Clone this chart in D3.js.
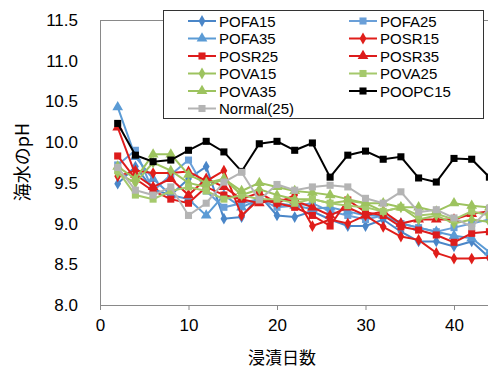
<!DOCTYPE html>
<html><head><meta charset="utf-8">
<script src="https://cdn.jsdelivr.net/npm/d3@7/dist/d3.min.js"></script>
<style>body{margin:0;background:#fff}svg{display:block}</style>
</head><body><svg id="c" width="488" height="370"></svg>
<script>
const days = [2,4,6,8,10,12,14,16,18,20,22,24,26,28,30,32,34,36,38,40,42,44];
const POFA15  = [9.49,9.70,9.42,9.35,9.55,9.70,9.06,9.08,9.35,9.10,9.08,9.15,9.05,8.97,8.97,9.05,8.90,8.78,8.78,8.72,8.78,8.58];
const POFA25  = [9.72,9.90,9.40,9.60,9.78,9.40,9.20,9.25,9.30,9.20,9.22,9.25,9.15,9.10,9.05,9.10,9.00,8.95,8.90,8.95,9.00,9.05];
const POFA35  = [10.43,9.82,9.55,9.35,9.30,9.10,9.35,9.20,9.30,9.25,9.22,9.18,9.20,9.15,9.10,9.10,9.00,8.95,8.90,8.85,8.82,8.65];
const POSR15  = [9.58,9.65,9.62,9.62,9.64,9.52,9.65,9.10,9.30,9.25,9.35,8.97,9.05,9.00,9.10,8.96,8.84,8.80,8.64,8.57,8.57,8.58];
const POSR25  = [9.83,9.55,9.40,9.30,9.25,9.45,9.35,9.30,9.38,9.25,9.20,9.10,8.97,9.29,9.14,9.10,8.96,8.92,8.86,8.77,8.88,8.90];
const POSR35  = [10.18,9.60,9.45,9.55,9.35,9.55,9.45,9.30,9.25,9.30,9.28,9.20,9.10,9.20,9.10,9.15,9.00,9.05,9.05,9.05,9.12,9.15];
const POVA15  = [9.62,9.50,9.75,9.65,9.50,9.45,9.55,9.35,9.42,9.35,9.30,9.30,9.25,9.28,9.25,9.15,9.20,9.05,9.10,9.00,9.05,9.02];
const POVA25  = [9.65,9.35,9.30,9.40,9.45,9.40,9.30,9.35,9.30,9.30,9.25,9.30,9.25,9.22,9.20,9.15,9.20,9.10,9.12,9.05,9.15,9.10];
const POVA35  = [9.70,9.55,9.85,9.85,9.60,9.50,9.55,9.40,9.50,9.45,9.40,9.38,9.35,9.30,9.25,9.25,9.20,9.20,9.15,9.25,9.22,9.20];
const POOPC15 = [10.23,9.84,9.76,9.78,9.90,10.01,9.88,9.64,9.98,10.01,9.90,9.99,9.57,9.84,9.89,9.79,9.82,9.56,9.51,9.80,9.79,9.57];
const Normal25 = [9.69,9.41,9.35,9.45,9.10,9.25,9.51,9.63,9.29,9.48,9.41,9.45,9.47,9.45,9.31,9.25,9.39,9.14,9.17,9.07,8.96,9.19];
const seriesNames = ["POFA15","POFA25","POFA35","POSR15","POSR25","POSR35","POVA15","POVA25","POVA35","POOPC15","Normal(25)"];
const xTicks = [0,10,20,30,40];
const yTicks = [8.0,8.5,9.0,9.5,10.0,10.5,11.0,11.5];
const xTitle = "浸漬日数";
const yTitle = "海水のpH";

const valuesList = [POFA15,POFA25,POFA35,POSR15,POSR25,POSR35,POVA15,POVA25,POVA35,POOPC15,Normal25];
const colors = ["#4a86c8","#6a9fd8","#5b9bd5","#e01e1a","#dd1c1c","#dd1c1c","#9dc35f","#a5c96c","#9dc35f","#000000","#b4b4b4"];
const shapes = ["diamond","square","triangle","diamond","square","triangle","diamond","square","triangle","square","square"];
const series = seriesNames.map((n,i)=>({name:n, values:valuesList[i], color:colors[i], shape:shapes[i]}));

const svg = d3.select("#c");
const font = "Liberation Sans, Arial, sans-serif";
const x = d3.scaleLinear().domain([0,50]).range([100,542.5]);
const y = d3.scaleLinear().domain([8,11.5]).range([305,20]);

const symType = {diamond:d3.symbolDiamond, square:d3.symbolSquare, triangle:d3.symbolTriangle};
const symSize = {diamond:40, square:50, triangle:50};
function sym(s){ return d3.symbol().type(symType[s]).size(symSize[s])(); }

// frame
const axisColor = "#898989";
svg.append("line").attr("x1",100).attr("x2",488).attr("y1",20.5).attr("y2",20.5).attr("stroke",axisColor);

const xAxis = svg.append("g").attr("transform","translate(0,305)")
  .call(d3.axisBottom(x).tickValues(xTicks).tickSize(5).tickSizeOuter(0).tickFormat(d3.format("d")));
xAxis.select(".domain").attr("stroke",axisColor).attr("d","M100,0.5H488");
xAxis.selectAll(".tick line").attr("stroke",axisColor);
xAxis.selectAll(".tick text").attr("font-family",font).attr("font-size",17).attr("fill","#000").attr("dy","1.05em");

const yAxis = svg.append("g").attr("transform","translate(100,0)")
  .call(d3.axisLeft(y).tickValues(yTicks).tickSize(0).tickPadding(22).tickFormat(d3.format(".1f")));
yAxis.select(".domain").attr("stroke",axisColor).attr("d","M0.5,20V305");
yAxis.selectAll(".tick text").attr("font-family",font).attr("font-size",17).attr("fill","#000");

// series
const line = d3.line().x((d,i)=>x(days[i])).y(d=>y(d));
const plot = svg.append("g");
series.forEach(s=>{
  const g = plot.append("g");
  g.append("path").attr("d",line(s.values)).attr("fill","none").attr("stroke",s.color).attr("stroke-width",2);
  g.selectAll("path.m").data(s.values).join("path").attr("class","m")
    .attr("d",sym(s.shape))
    .attr("transform",(d,i)=>`translate(${x(days[i])},${y(d)})`)
    .attr("fill",s.color);
});

// titles
svg.append("text").attr("x",282).attr("y",364).attr("text-anchor","middle")
  .attr("font-family","Noto Sans CJK JP, sans-serif").attr("font-size",17).text(xTitle);
svg.append("text").attr("transform","translate(29,162) rotate(-90)").attr("text-anchor","middle")
  .attr("font-family","Noto Sans CJK JP, sans-serif").attr("font-size",18).text(yTitle);

// legend
const lg = svg.append("g");
lg.append("rect").attr("x",163.5).attr("y",10.5).attr("width",320).attr("height",108)
  .attr("fill","#fff").attr("stroke","#333");
series.forEach((s,i)=>{
  const col = i%2, row = Math.floor(i/2);
  const lx = col===0 ? 188 : 349;
  const cy = 21 + row*17.5;
  const g = lg.append("g");
  g.append("line").attr("x1",lx).attr("x2",lx+28).attr("y1",cy).attr("y2",cy).attr("stroke",s.color).attr("stroke-width",2);
  g.append("path").attr("d",sym(s.shape)).attr("transform",`translate(${lx+14},${cy})`).attr("fill",s.color);
  g.append("text").attr("x",lx+31).attr("y",cy+5.5).attr("font-family",font).attr("font-size",15).text(s.name);
});
</script></body></html>
